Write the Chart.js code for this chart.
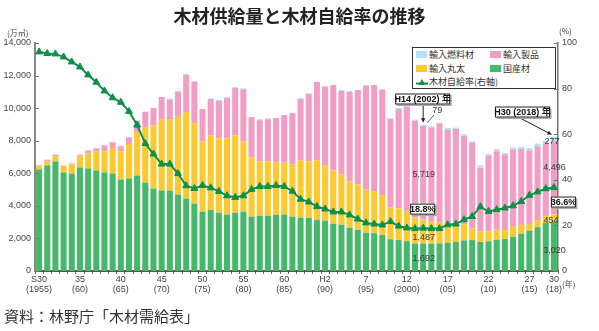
<!DOCTYPE html>
<html lang="ja">
<head>
<meta charset="utf-8">
<script src="https://cdn.jsdelivr.net/npm/chart.js@4.4.1/dist/chart.umd.min.js"></script>
<style>
body{margin:0;background:#fff;}
#wrap{position:relative;width:599px;height:331px;overflow:hidden;font-family:"Noto Sans CJK JP","Liberation Sans",sans-serif;color:#333;}
#chart{position:absolute;left:0;top:0;}
#title{position:absolute;left:0;top:4px;width:599px;text-align:center;font-size:18px;font-weight:bold;line-height:22px;color:#222;}
#source{position:absolute;left:4px;top:307px;font-size:15px;line-height:18px;color:#333;}
.unit{position:absolute;font-size:8px;line-height:10px;color:#444;}
#legend{position:absolute;left:412px;top:47px;width:144px;height:42px;box-sizing:border-box;border:1px solid #333;background:#fff;}
#legend .item{position:absolute;height:12px;line-height:12px;font-size:9px;white-space:nowrap;color:#333;}
#legend .sw{position:absolute;left:0;top:2px;width:11px;height:7px;}
#legend .txt{position:absolute;left:13px;top:0;}
</style>
</head>
<body>
<div id="wrap">
  <canvas id="chart" width="599" height="331"></canvas>
  <div id="title">木材供給量と木材自給率の推移</div>
  <div class="unit" style="left:7px;top:28px">(万㎥)</div>
  <div class="unit" style="left:559px;top:26px">(%)</div>
  <div class="unit" style="left:562px;top:279px">(年)</div>
  <div id="legend">
    <div class="item" style="left:3px;top:1px"><span class="sw" style="background:#b1e1f5"></span><span class="txt">輸入燃料材</span></div>
    <div class="item" style="left:77px;top:1px"><span class="sw" style="background:#f29dc4"></span><span class="txt">輸入製品</span></div>
    <div class="item" style="left:3px;top:15px"><span class="sw" style="background:#fcc92e"></span><span class="txt">輸入丸太</span></div>
    <div class="item" style="left:77px;top:15px"><span class="sw" style="background:#46b86a"></span><span class="txt">国産材</span></div>
    <div class="item" style="left:3px;top:28px"><svg style="position:absolute;left:0;top:2px" width="12" height="8"><line x1="0" y1="5.5" x2="12" y2="5.5" stroke="#0e9146" stroke-width="2"/><polygon points="6,1 9.5,7 2.5,7" fill="#0e9146"/></svg><span class="txt">木材自給率(右軸)</span></div>
  </div>
  <div id="source">資料：林野庁「木材需給表」</div>
</div>
<script>
// 年次（S30〜H30）
const years = [1955,1956,1957,1958,1959,1960,1961,1962,1963,1964,
  1965,1966,1967,1968,1969,1970,1971,1972,1973,1974,
  1975,1976,1977,1978,1979,1980,1981,1982,1983,1984,
  1985,1986,1987,1988,1989,1990,1991,1992,1993,1994,
  1995,1996,1997,1998,1999,2000,2001,2002,2003,2004,
  2005,2006,2007,2008,2009,2010,2011,2012,2013,2014,
  2015,2016,2017,2018];

// 供給量（万㎥）
const domestic = [6240,6485,6730,6055,5990,6360,6300,6175,6055,5990,
  5620,5680,5865,5435,5065,4940,4940,4695,4447,4140,
  3645,3765,3580,3460,3580,3645,3335,3395,3395,3460,
  3460,3335,3275,3275,3150,3090,2905,2840,2655,2530,
  2345,2320,2210,1950,1900,1830,1680,1692,1680,1700,
  1740,1780,1880,1900,1780,1820,1920,1970,2110,2290,
  2480,2690,2950,3020];
const importLogs = [205,226,330,430,556,720,926,1175,1295,1565,
  1730,2120,2680,3355,3890,4385,4385,4815,5310,4940,
  4320,4570,4570,4690,4755,4320,3645,3335,3335,3210,
  3210,3210,3520,3460,3645,3395,3270,3090,2840,2780,
  2655,2560,2450,1950,1950,1870,1620,1487,1340,1300,
  1160,1080,990,700,630,610,610,540,610,530,
  400,440,430,454];
const importProducts = [30,103,62,0,62,62,185,185,370,350,
  308,412,658,988,1050,1360,1175,1480,2285,2530,
  1980,2225,2285,2470,2900,3190,2470,2530,2595,2720,
  2905,3150,3765,4135,4815,4815,5250,5125,5495,5805,
  6360,6545,6460,5426,6094,6367,5923,5719,5790,6058,
  5767,5869,5427,5305,3931,4672,4820,4654,4753,4674,
  4531,4528,4443,4496];
const importFuel = [50,41,41,0,0,20,0,0,0,0,
  41,21,62,0,0,0,100,62,63,62,
  0,40,60,60,60,60,0,60,60,0,
  0,0,60,40,0,60,0,60,60,0,
  60,0,60,62,61,62,82,79,84,62,
  124,82,103,42,144,83,144,83,123,123,
  124,165,165,277];

// 木材自給率（%）
const selfRate = [96.1,95.4,95.2,93.9,91.7,89.5,86.0,82.8,79.0,76.0,
  74.0,70.0,64.0,55.9,51.3,46.9,46.9,42.7,37.4,36.2,
  37.5,36.5,34.9,33.0,32.3,33.0,35.8,37.1,37.1,37.5,
  37.1,35.0,31.5,30.3,28.3,27.2,25.9,25.9,24.6,22.8,
  21.1,20.6,20.2,21.7,19.7,18.9,18.6,18.8,18.6,18.6,
  20.3,20.6,22.5,23.9,28.2,26.1,26.9,27.6,28.6,30.5,
  33.2,34.7,36.1,36.6];

// 横軸の目盛ラベル
const tickIndex = [0,5,10,15,20,25,30,35,40,45,50,55,60,63];
const tickEra = ['S30','35','40','45','50','55','60','H2','7','12','17','22','27','30'];
const tickYear = ['(1955)','(60)','(65)','(70)','(75)','(80)','(85)','(90)','(95)','(2000)','(05)','(10)','(15)','(18)'];

const lineGreen = '#0e9146';
const FONT = '"Liberation Sans","Noto Sans CJK JP",sans-serif';
Chart.defaults.font.family = FONT;

function fmt(v){ return v.toLocaleString('en-US'); }

function arrow(ctx, x1, y1, x2, y2){
  const a = Math.atan2(y2 - y1, x2 - x1), s = 5;
  ctx.beginPath(); ctx.moveTo(x1, y1); ctx.lineTo(x2 - Math.cos(a) * 3, y2 - Math.sin(a) * 3); ctx.stroke();
  ctx.beginPath();
  ctx.moveTo(x2, y2);
  ctx.lineTo(x2 - s * Math.cos(a - 0.45), y2 - s * Math.sin(a - 0.45));
  ctx.lineTo(x2 - s * Math.cos(a + 0.45), y2 - s * Math.sin(a + 0.45));
  ctx.closePath(); ctx.fill();
}

function boxLabel(ctx, text, cx, cy, w, h){
  const l = cx - w / 2, t = cy - h / 2;
  ctx.fillStyle = '#aaa'; ctx.fillRect(l + 1.5, t + 1.5, w, h);
  ctx.fillStyle = '#fff'; ctx.fillRect(l, t, w, h);
  ctx.strokeStyle = '#222'; ctx.lineWidth = 1; ctx.strokeRect(l + 0.5, t + 0.5, w - 1, h - 1);
  ctx.fillStyle = '#111'; ctx.font = 'bold 9px ' + FONT;
  ctx.textAlign = 'center'; ctx.textBaseline = 'middle';
  ctx.fillText(text, cx, cy + 0.5);
}

function numLabel(ctx, text, x, y){
  ctx.fillStyle = '#3a3a3a'; ctx.font = '9px ' + FONT;
  ctx.textAlign = 'center'; ctx.textBaseline = 'middle';
  ctx.fillText(text, x, y);
}

const annotate = {
  id: 'annotate',
  afterDraw(chart){
    const ctx = chart.ctx, sx = chart.scales.x, sy = chart.scales.y, sr = chart.scales.y1;
    const area = chart.chartArea;
    ctx.save();
    // 縦軸の内向き目盛
    ctx.strokeStyle = '#777'; ctx.lineWidth = 1;
    for (let v = 0; v <= 14000; v += 2000){
      const y = Math.round(sy.getPixelForValue(v)) + 0.5;
      ctx.beginPath(); ctx.moveTo(area.left, y); ctx.lineTo(area.left + 4, y); ctx.stroke();
    }
    for (let v = 0; v <= 100; v += 20){
      const y = Math.round(sr.getPixelForValue(v)) + 0.5;
      ctx.beginPath(); ctx.moveTo(area.right - 4, y); ctx.lineTo(area.right, y); ctx.stroke();
    }

    const i02 = years.indexOf(2002), i18 = years.indexOf(2018);
    const x02 = sx.getPixelForValue(i02), x18 = sx.getPixelForValue(i18);
    const top = i => sy.getPixelForValue(domestic[i] + importLogs[i] + importProducts[i] + importFuel[i]);

    // 2002年
    numLabel(ctx, fmt(domestic[i02]), x02 + 0.5, sy.getPixelForValue(domestic[i02] / 2) + 1);
    numLabel(ctx, fmt(importLogs[i02]), x02 + 0.5, sy.getPixelForValue(domestic[i02] + importLogs[i02] / 2) + 6);
    numLabel(ctx, fmt(importProducts[i02]), x02 + 0.5, sy.getPixelForValue(domestic[i02] + importLogs[i02] + importProducts[i02] / 2) + 2);
    numLabel(ctx, fmt(importFuel[i02]), x02 + 14, top(i02) - 14);
    ctx.strokeStyle = '#333'; ctx.lineWidth = 0.8;
    ctx.beginPath(); ctx.moveTo(x02 + 11, top(i02) - 10); ctx.lineTo(x02 + 4, top(i02) - 2); ctx.stroke();
    ctx.strokeStyle = '#222'; ctx.fillStyle = '#222'; ctx.lineWidth = 1;
    arrow(ctx, x02, 104.5, x02, top(i02) - 2);
    boxLabel(ctx, 'H14 (2002) 年', x02 - 0.5, 99, 55, 11);
    boxLabel(ctx, selfRate[i02].toFixed(1) + '%', x02 - 0.5, sr.getPixelForValue(selfRate[i02]) - 19, 25, 11);

    // 2018年
    numLabel(ctx, fmt(domestic[i18]), x18 + 0.5, sy.getPixelForValue(domestic[i18] / 2) + 4);
    numLabel(ctx, fmt(importLogs[i18]), x18 - 3, sy.getPixelForValue(domestic[i18] + importLogs[i18] / 2) + 2);
    numLabel(ctx, fmt(importProducts[i18]), x18 + 0.5, sy.getPixelForValue(domestic[i18] + importLogs[i18] + importProducts[i18] / 2) - 10);
    numLabel(ctx, fmt(importFuel[i18]), x18 - 2, top(i18) + 5);
    ctx.strokeStyle = '#222'; ctx.fillStyle = '#222'; ctx.lineWidth = 1;
    arrow(ctx, 520, 118, x18 - 2, top(i18) - 2);
    boxLabel(ctx, 'H30 (2018) 年', 522.5, 112, 55, 11);
    boxLabel(ctx, selfRate[i18].toFixed(1) + '%', x18 + 9.5, sr.getPixelForValue(selfRate[i18]) + 14.5, 25, 11);
    ctx.restore();
  }
};

new Chart(document.getElementById('chart').getContext('2d'), {
  type: 'bar',
  data: {
    labels: years,
    datasets: [
      {type: 'line', label: '木材自給率(右軸)', data: selfRate, yAxisID: 'y1', order: 0,
        borderColor: lineGreen, backgroundColor: lineGreen, borderWidth: 2, tension: 0,
        pointStyle: 'triangle', pointRadius: 4, pointHoverRadius: 4, pointBorderWidth: 1},
      {label: '国産材', data: domestic, backgroundColor: '#46b86a', order: 1},
      {label: '輸入丸太', data: importLogs, backgroundColor: '#fcc92e', order: 1},
      {label: '輸入製品', data: importProducts, backgroundColor: '#f29dc4', order: 1},
      {label: '輸入燃料材', data: importFuel, backgroundColor: '#b1e1f5', order: 1}
    ]
  },
  options: {
    responsive: false,
    animation: false,
    layout: {padding: {left: 0, right: 0, top: 43, bottom: 0}},
    datasets: {bar: {categoryPercentage: 1, barPercentage: 0.74}},
    plugins: {legend: {display: false}, tooltip: {enabled: false}},
    scales: {
      x: {
        stacked: true, offset: true,
        grid: {display: true, drawOnChartArea: false, offset: true, tickLength: 3, color: '#666'},
        border: {color: '#555', width: 2},
        ticks: {
          autoSkip: false, maxRotation: 0, minRotation: 0, padding: 1, color: '#444',
          font: {size: 9, lineHeight: 1.05},
          callback: (v, i) => {
            const k = tickIndex.indexOf(i);
            return k < 0 ? '' : [tickEra[k], tickYear[k]];
          }
        },
        afterFit(s){ s.height = 60; }
      },
      y: {
        stacked: true, min: 0, max: 14000,
        grid: {display: false, drawTicks: false},
        border: {color: '#888', width: 2},
        ticks: {stepSize: 2000, padding: 4, color: '#444', font: {size: 9}, callback: v => fmt(v)},
        afterFit(s){ s.width = 35; }
      },
      y1: {
        position: 'right', min: 0, max: 100,
        grid: {display: false, drawTicks: false},
        border: {color: '#777', width: 1.5},
        ticks: {stepSize: 20, padding: 4, color: '#444', font: {size: 9}},
        afterFit(s){ s.width = 41; }
      }
    }
  },
  plugins: [annotate]
});
</script>
</body>
</html>
